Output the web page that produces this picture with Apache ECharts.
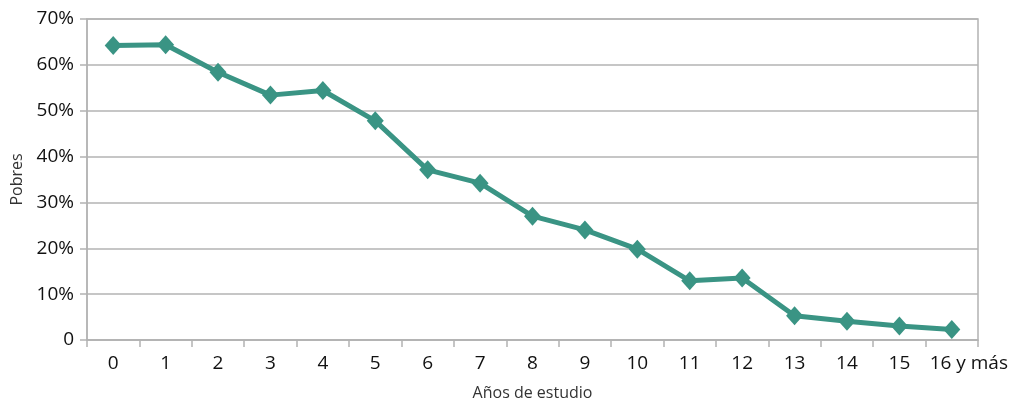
<!DOCTYPE html>
<html><head><meta charset="utf-8">
<script src="https://cdn.jsdelivr.net/npm/echarts@6/dist/echarts.min.js"></script>
<style>html,body{margin:0;padding:0;background:#fff}#c{width:1013px;height:403px}</style>
</head><body><div id="c"></div>
<script>
const categories = ['0','1','2','3','4','5','6','7','8','9','10','11','12','13','14','15','16 y más'];
const pobres = [64.2, 64.4, 58.4, 53.4, 54.4, 47.8, 37.1, 34.2, 27.0, 24.0, 19.8, 12.9, 13.5, 5.3, 4.1, 3.05, 2.3];
const yTicks = [0,10,20,30,40,50,60,70];
const font = '"Open Sans", "Noto Sans", sans-serif';
const catData = categories.map((c,i)=> i===categories.length-1
  ? {value:c, textStyle:{padding:[0,0,0,34]}} : c);
const chart = echarts.init(document.getElementById('c'));
chart.setOption({
  animation:false,
  grid:{left:87,right:35,top:19,bottom:63,show:true,borderColor:'#b3b3b3',borderWidth:1.5,
    containLabel:false,outerBoundsMode:'none'},
  xAxis:{type:'category',data:catData,boundaryGap:true,
    name:'Años de estudio',nameLocation:'middle',nameGap:45,
    nameTextStyle:{fontFamily:font,fontSize:16,color:'#333'},
    axisLine:{lineStyle:{color:'#b3b3b3',width:1.5}},
    axisTick:{show:true,length:7,lineStyle:{color:'#b3b3b3',width:1.5}},
    axisLabel:{fontFamily:font,fontSize:19,color:'#111',margin:14,interval:0}},
  yAxis:{type:'value',min:0,max:70,interval:10,
    name:'Pobres',nameLocation:'middle',nameGap:60,
    nameTextStyle:{fontFamily:font,fontSize:16,color:'#333'},
    axisLine:{show:true,lineStyle:{color:'#b3b3b3',width:1.5}},
    axisTick:{show:true,length:7,lineStyle:{color:'#b3b3b3',width:1.5}},
    splitLine:{lineStyle:{color:'#b3b3b3',width:1.5}},
    axisLabel:{fontFamily:font,fontSize:19,color:'#111',margin:13,
      formatter:v=>yTicks.includes(v)?(v===0?'0':v+'%'):''}},
  series:[{type:'line',data:pobres,symbol:'diamond',symbolSize:[17,19],
    lineStyle:{color:'#3a9484',width:5},itemStyle:{color:'#3a9484'}}]
});
</script></body></html>
